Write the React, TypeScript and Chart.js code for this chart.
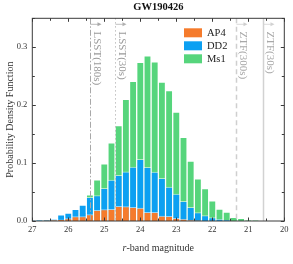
import React, { useEffect, useRef } from 'react';
import { Chart, registerables } from 'chart.js';

Chart.register(...registerables);

// r-band magnitude bin centers (bin width 0.2 mag)
const binCenters = [
  27.0, 26.8, 26.6, 26.4, 26.2, 26.0, 25.8, 25.6, 25.4, 25.2, 25.0, 24.8, 24.6, 24.4, 24.2, 24.0,
  23.8, 23.6, 23.4, 23.2, 23.0, 22.8, 22.6, 22.4, 22.2, 22.0, 21.8, 21.6, 21.4, 21.2, 21.0, 20.8,
];
const ap4Values = [
  0, 0, 0.0005, 0.001, 0.002, 0.004, 0.0075, 0.0078, 0.011, 0.0185, 0.0198, 0.0202, 0.0254, 0.0247, 0.0236, 0.0224,
  0.015, 0.015, 0.0086, 0.0081, 0.0046, 0.003, 0.001, 0.0005, 0, 0, 0, 0, 0, 0, 0, 0,
];
const dd2Values = [
  0.0005, 0.001, 0.0015, 0.0035, 0.0105, 0.0135, 0.02, 0.0275, 0.041, 0.044, 0.0565, 0.0708, 0.079, 0.085, 0.093, 0.1065,
  0.0927, 0.0846, 0.0737, 0.0587, 0.0466, 0.034, 0.0236, 0.0144, 0.0092, 0.0058, 0.003, 0.0012, 0, 0, 0, 0,
];
const ms1Values = [
  0, 0.0003, 0.0005, 0.001, 0.003, 0.005, 0.009, 0.015, 0.045, 0.071, 0.0985, 0.135, 0.1646, 0.21, 0.2412, 0.274,
  0.285, 0.275, 0.24, 0.225, 0.188, 0.1445, 0.1036, 0.073, 0.0558, 0.035, 0.0207, 0.0155, 0.0064, 0.0046, 0.001, 0.0006,
];
const seriesNames = ['AP4', 'DD2', 'Ms1'];
const seriesColors = ['#F57B2C', '#0CA0F2', '#56D57C'];

// survey limiting magnitudes
const limitLabels = ['LSST(180s)', 'LSST(30s)', 'ZTF(300s)', 'ZTF(30s)'];
const limitMags = [25.4, 24.7, 21.35, 20.6];

const xTicks = [27, 26, 25, 24, 23, 22, 21, 20];
const yTicks = [0, 0.1, 0.2, 0.3];

const FONT = "'Liberation Serif', 'DejaVu Serif', serif";

const limitStyles = [
  { color: '#a8a8a8', text: '#9a9a9a', dash: [6, 2, 1.5, 2], width: 1 },
  { color: '#b0b0b0', text: '#9a9a9a', dash: [1.2, 2.8], width: 1 },
  { color: '#cfcfcf', text: '#a8a8a8', dash: [5, 3.5], width: 1.5 },
  { color: '#d2d2d2', text: '#a8a8a8', dash: [], width: 1.5 },
];

const decorPlugin = {
  id: 'decor',
  afterDatasetsDraw(chart: any) {
    const { ctx, chartArea: a, scales } = chart;
    const x = scales.x;
    ctx.save();
    // limit lines, arrows, labels
    limitMags.forEach((m, i) => {
      const st = limitStyles[i];
      const px = Math.round(x.getPixelForValue(m)) + 0.5;
      ctx.strokeStyle = st.color;
      ctx.lineWidth = st.width;
      ctx.setLineDash(st.dash);
      ctx.beginPath();
      ctx.moveTo(px, a.top);
      ctx.lineTo(px, a.bottom);
      ctx.stroke();
      ctx.setLineDash([]);
      const ay = a.top + 6;
      ctx.lineWidth = 0.8;
      ctx.beginPath();
      ctx.moveTo(px, ay);
      ctx.lineTo(px + 9, ay);
      ctx.stroke();
      ctx.fillStyle = st.color;
      ctx.beginPath();
      ctx.moveTo(px + 11, ay);
      ctx.lineTo(px + 7, ay - 2);
      ctx.lineTo(px + 7, ay + 2);
      ctx.closePath();
      ctx.fill();
      ctx.save();
      ctx.translate(px + 3, a.top + 13.2);
      ctx.rotate(Math.PI / 2);
      ctx.fillStyle = st.text;
      ctx.font = `11px ${FONT}`;
      ctx.textAlign = 'left';
      ctx.textBaseline = 'alphabetic';
      ctx.fillText(limitLabels[i], 0, 0);
      ctx.restore();
    });
    // legend
    const lx = 184;
    const ly = 28.3;
    seriesNames.forEach((name, i) => {
      const yy = ly + i * 13;
      ctx.fillStyle = seriesColors[i];
      ctx.fillRect(lx, yy, 18, 9);
      ctx.fillStyle = '#222';
      ctx.font = `10.5px ${FONT}`;
      ctx.textAlign = 'left';
      ctx.textBaseline = 'middle';
      ctx.fillText(name, lx + 23, yy + 5);
    });
    ctx.restore();
  },
  afterDraw(chart: any) {
    const { ctx, chartArea: a, scales } = chart;
    const x = scales.x;
    const y = scales.y;
    ctx.save();
    // frame
    ctx.strokeStyle = '#3a3a3a';
    ctx.lineWidth = 1;
    ctx.setLineDash([]);
    ctx.strokeRect(a.left, a.top, a.right - a.left, a.bottom - a.top);
    // x ticks (major + minor), bottom and top, inward
    ctx.beginPath();
    for (let v = 20; v <= 27.001; v += 0.5) {
      const px = Math.round(x.getPixelForValue(v)) + 0.5;
      const major = Math.abs(v - Math.round(v)) < 1e-6;
      const len = major ? 3.5 : 2.5;
      ctx.moveTo(px, a.bottom);
      ctx.lineTo(px, a.bottom - len);
      ctx.moveTo(px, a.top);
      ctx.lineTo(px, a.top + len);
    }
    for (let k = 0; k <= 7; k++) {
      const v = k * 0.05;
      const py = Math.round(y.getPixelForValue(v)) + 0.5;
      const len = k % 2 === 0 ? 3.5 : 2.5;
      ctx.moveTo(a.left, py);
      ctx.lineTo(a.left + len, py);
      ctx.moveTo(a.right, py);
      ctx.lineTo(a.right - len, py);
    }
    ctx.stroke();
    // title
    ctx.fillStyle = '#111';
    ctx.font = `bold 10.5px ${FONT}`;
    ctx.textAlign = 'center';
    ctx.textBaseline = 'middle';
    const cx = (a.left + a.right) / 2;
    ctx.fillText('GW190426', cx, 7.5);
    // x title with italic r
    ctx.font = `10px ${FONT}`;
    const rest = '-band magnitude';
    const restW = ctx.measureText(rest).width;
    ctx.font = `italic 10px ${FONT}`;
    const rW = ctx.measureText('r').width;
    const start = cx - (restW + rW) / 2;
    ctx.textAlign = 'left';
    ctx.fillStyle = '#333';
    ctx.fillText('r', start, 248.5);
    ctx.font = `10px ${FONT}`;
    ctx.fillText(rest, start + rW, 248.5);
    // y title
    ctx.save();
    ctx.translate(10, (a.top + a.bottom) / 2);
    ctx.rotate(-Math.PI / 2);
    ctx.textAlign = 'center';
    ctx.textBaseline = 'middle';
    ctx.fillText('Probability Density Function', 0, 0);
    ctx.restore();
    ctx.restore();
  },
};

export default function App() {
  const ref = useRef<HTMLCanvasElement | null>(null);
  useEffect(() => {
    if (!ref.current) return;
    const series = [ap4Values, dd2Values, ms1Values];
    const datasets = series.map((vals, i) => ({
      label: seriesNames[i],
      data: binCenters
        .map((c, j) => ({ x: c, y: vals[j] }))
        .filter((p) => p.y > 0),
      backgroundColor: seriesColors[i],
      borderColor: 'rgba(255,255,255,0.55)',
      borderWidth: 1,
      borderSkipped: 'start' as const,
      grouped: false,
      categoryPercentage: 1,
      barPercentage: 1,
    }));
    const chart = new Chart(ref.current, {
      type: 'bar',
      data: { datasets },
      options: {
        animation: false,
        responsive: false,
        devicePixelRatio: 1,
        layout: { padding: { top: 18.3, right: 8.7, left: 0, bottom: 0 } },
        plugins: { legend: { display: false }, tooltip: { enabled: false }, title: { display: false } },
        scales: {
          x: {
            type: 'linear',
            reverse: true,
            min: 20,
            max: 27,
            offset: false,
            grid: { display: false, drawTicks: false, tickLength: 0 },
            border: { display: false },
            afterFit: (s: any) => {
              s.height = 43;
            },
            afterBuildTicks: (s: any) => {
              s.ticks = xTicks.map((v) => ({ value: v }));
            },
            ticks: {
              autoSkip: false,
              maxRotation: 0,
              padding: 4,
              color: '#333',
              font: { family: FONT, size: 8.5 },
              callback: (v: any) => String(v),
            },
          },
          y: {
            type: 'linear',
            min: 0,
            max: 0.35,
            grid: { display: false, drawTicks: false, tickLength: 0 },
            border: { display: false },
            afterFit: (s: any) => {
              s.width = 32.3;
            },
            afterBuildTicks: (s: any) => {
              s.ticks = yTicks.map((v) => ({ value: v }));
            },
            ticks: {
              padding: 5,
              color: '#333',
              font: { family: FONT, size: 8.5 },
              callback: (v: any) => Number(v).toFixed(1),
            },
          },
        },
      },
      plugins: [decorPlugin],
    });
    return () => chart.destroy();
  }, []);
  return (
    <div style={{ position: 'fixed', left: 0, top: 0, width: 293, height: 264, background: '#fff' }}>
      <canvas ref={ref} width={293} height={264} style={{ display: 'block', width: 293, height: 264 }} />
    </div>
  );
}
